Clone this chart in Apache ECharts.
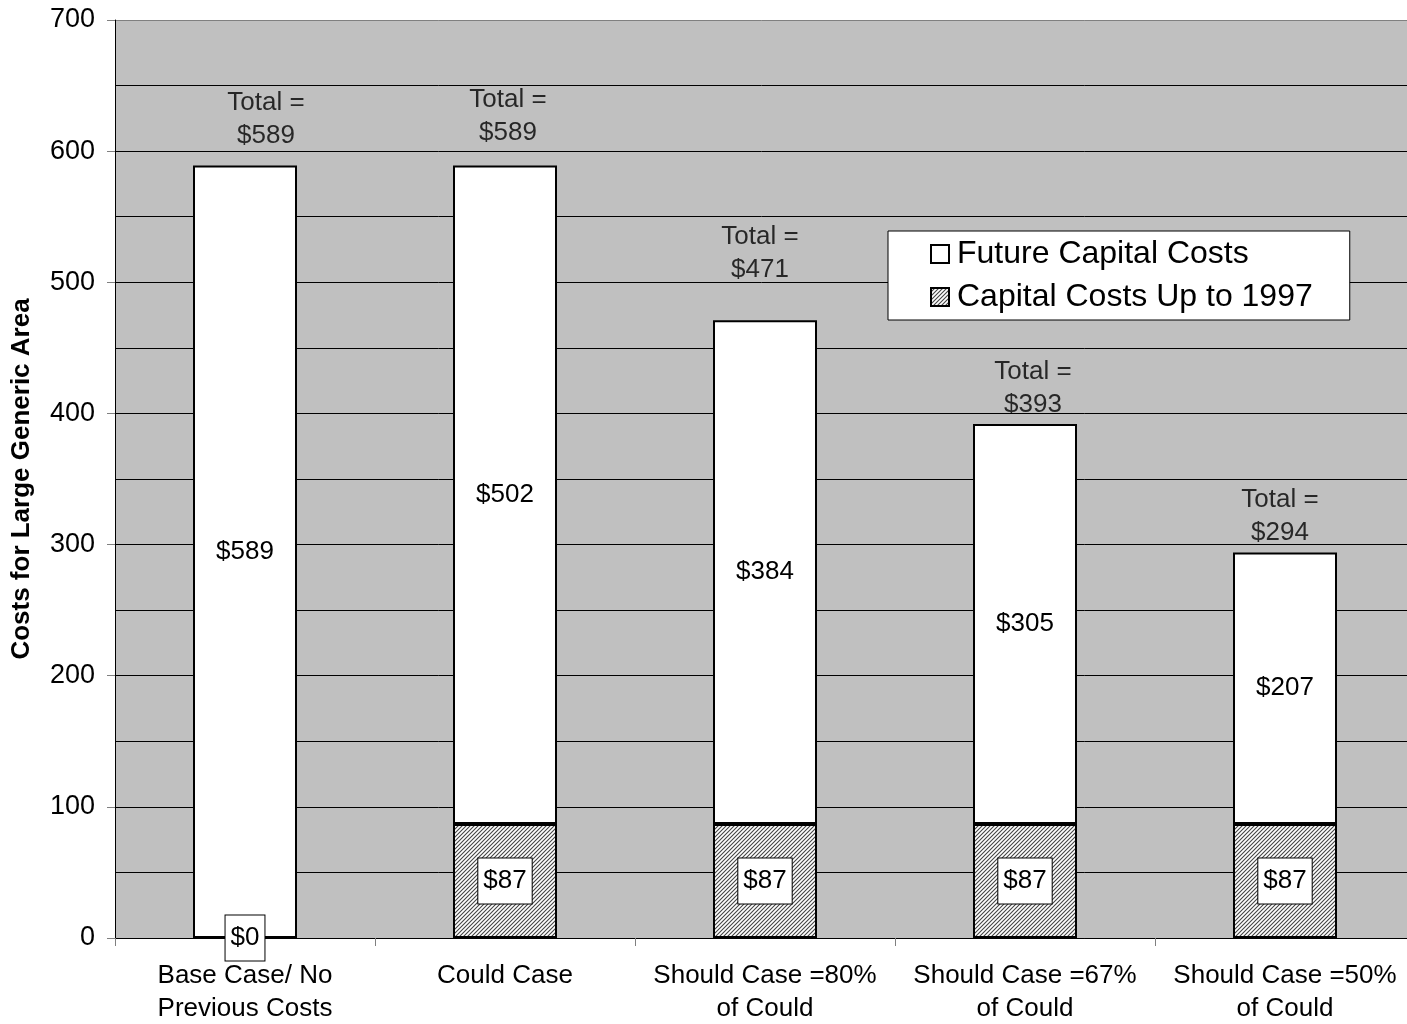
<!DOCTYPE html>
<html>
<head>
<meta charset="utf-8">
<script src="https://cdn.jsdelivr.net/npm/echarts@6/dist/echarts.min.js"></script>
<style>
html,body{margin:0;padding:0;background:#fff;}
#chart{width:1407px;height:1024px;}
</style>
</head>
<body>
<div id="chart"></div>
<script>
var categories = ['Base Case/ No\nPrevious Costs', 'Could Case', 'Should Case =80%\nof Could', 'Should Case =67%\nof Could', 'Should Case =50%\nof Could'];
var upTo1997 = [0, 87, 87, 87, 87];
var future = [589, 502, 384, 305, 207];
var totals = [589, 589, 471, 393, 294];
var yTicks = [0, 100, 200, 300, 400, 500, 600, 700];
var totalOffsets = [[21, -46], [3, -49], [-5, -67], [8, -34], [-5, -36]];

var FONT = '"Liberation Sans", Arial, sans-serif';

function makeHatch() {
  var c = document.createElement('canvas');
  c.width = 4; c.height = 4;
  var g = c.getContext('2d');
  g.fillStyle = '#ffffff';
  g.fillRect(0, 0, 4, 4);
  g.strokeStyle = '#444444';
  g.lineWidth = 1.1;
  g.beginPath();
  g.moveTo(-1, 5); g.lineTo(5, -1);
  g.moveTo(-1, 1); g.lineTo(1, -1);
  g.moveTo(3, 5); g.lineTo(5, 3);
  g.stroke();
  return c;
}
var hatch = makeHatch();

var chart = echarts.init(document.getElementById('chart'));
chart.setOption({
  animation: false,
  backgroundColor: '#ffffff',
  grid: {
    left: 115, right: -8, top: 20, bottom: 86,
    containLabel: false,
    outerBoundsMode: 'none',
    show: true, backgroundColor: '#c0c0c0', borderWidth: 0
  },
  legend: {
    orient: 'vertical',
    left: 888, top: 231,
    padding: [7, 37, 7, 42],
    itemGap: 11,
    itemWidth: 18, itemHeight: 18,
    icon: 'rect',
    backgroundColor: '#ffffff',
    borderColor: '#000000', borderWidth: 1,
    borderRadius: 0,
    data: ['Future Capital Costs', 'Capital Costs Up to 1997'],
    textStyle: { fontFamily: FONT, fontSize: 32, color: '#000', padding: [0, 0, 0, 3] }
  },
  xAxis: {
    type: 'category',
    data: categories,
    axisLine: { lineStyle: { color: '#000', width: 1 } },
    axisTick: { show: true, length: 8, alignWithLabel: false, lineStyle: { color: '#808080', width: 1 } },
    axisLabel: { fontFamily: FONT, fontSize: 26, color: '#000', lineHeight: 33, margin: 21, interval: 0 }
  },
  yAxis: {
    type: 'value',
    min: 0, max: 700, interval: 100,
    name: 'Costs for Large Generic Area',
    nameLocation: 'middle',
    nameGap: 80,
    nameTextStyle: { fontFamily: FONT, fontSize: 26, fontWeight: 'bold', color: '#000' },
    axisLine: { show: true, lineStyle: { color: '#000', width: 1 } },
    axisTick: { show: true, length: 8, lineStyle: { color: '#808080' } },
    axisLabel: {
      fontFamily: FONT, fontSize: 27, color: '#000', margin: 20,
      formatter: function (v) { return yTicks.indexOf(v) >= 0 ? String(v) : ''; }
    },
    splitLine: { show: true, lineStyle: { color: ['#000', '#000', '#000', '#000', '#000', '#000', '#000', '#808080'], width: 1 } },
    minorTick: { show: false, splitNumber: 2 },
    minorSplitLine: { show: true, lineStyle: { color: '#000', width: 1 } }
  },
  series: [
    {
      name: 'Capital Costs Up to 1997',
      type: 'bar',
      stack: 'total',
      barWidth: 104,
      data: upTo1997,
      itemStyle: { color: { image: hatch, repeat: 'repeat' }, borderColor: '#000', borderWidth: 2 },
      label: {
        show: true, position: 'inside',
        formatter: function (p) { return '$' + p.value; },
        fontFamily: FONT, fontSize: 26, color: '#000',
        backgroundColor: '#fff', borderColor: '#000', borderWidth: 1,
        lineHeight: 30, padding: [8, 5, 7, 5]
      },
      z: 3
    },
    {
      name: 'Future Capital Costs',
      type: 'bar',
      stack: 'total',
      barWidth: 104,
      data: future,
      itemStyle: { color: '#ffffff', borderColor: '#000', borderWidth: 2 },
      label: {
        show: true, position: 'inside',
        formatter: function (p) { return '$' + p.value; },
        fontFamily: FONT, fontSize: 26, color: '#000'
      },
      z: 2
    },
    {
      name: 'Total',
      type: 'scatter',
      silent: true,
      symbolSize: 1,
      itemStyle: { color: 'rgba(0,0,0,0)' },
      data: totals.map(function (v, i) {
        return {
          value: v,
          label: { offset: totalOffsets[i] }
        };
      }),
      label: {
        show: true, position: 'inside',
        formatter: function (p) { return 'Total =\n$' + p.value; },
        fontFamily: FONT, fontSize: 26, color: '#000', lineHeight: 33
      },
      z: 5
    }
  ]
});
</script>
</body>
</html>
